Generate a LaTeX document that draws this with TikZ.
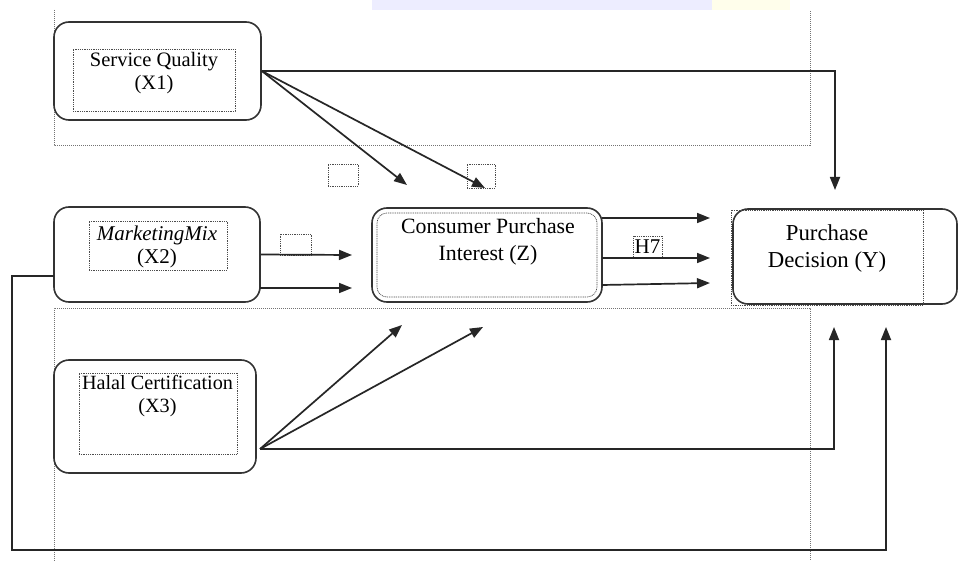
\documentclass[tikz,border=0pt]{standalone}
\usepackage{fontspec}
\setmainfont{Liberation Serif}
\usetikzlibrary{arrows.meta,calc}
\begin{document}
\begin{tikzpicture}[x=1pt,y=-1pt,
  outer/.style={draw=black!80,line width=1.6pt,rounded corners=15pt,inner sep=0pt},
  dotbox/.style={draw=black!70,line width=0.7pt,dash pattern=on 1pt off 0.8pt,inner sep=0pt},
  txt/.style={align=center,inner sep=0pt,text=black},
  frame/.style={draw=black!55,line width=0.9pt,dash pattern=on 1pt off 1pt},
  conn/.style={draw=black!85,line width=1.7pt},
  arr/.style={conn,-{Triangle[length=13pt,width=10pt]}}]
\useasboundingbox (0,0) rectangle (960,561);
\fill[white] (0,0) rectangle (960,561);
% faint banner at the top edge
\fill[blue!7] (372,0) rectangle (712,10);
\fill[yellow!8] (712,0) rectangle (790,10);
% dotted frames
\draw[frame] (54,10) -- (54,145) -- (810,145) -- (810,10);
\draw[frame] (54,561) -- (54,308) -- (810,308) -- (810,561);

% X1
\node[outer,minimum width=207pt,minimum height=98pt] (X1) at (157.5,71) {};
\node[dotbox,minimum width=162pt,minimum height=62pt] (X1i) at (154,80) {};
\node[txt,font=\fontsize{20.5}{23}\selectfont] (X1t) at (154,73.5) {Service Quality\\(X1)};

% X2
\node[outer,minimum width=206pt,minimum height=95pt] (X2) at (157,254.5) {};
\node[dotbox,minimum width=138pt,minimum height=49pt] (X2i) at (158,245.5) {};
\node[txt,font=\fontsize{21}{23}\selectfont] (X2t) at (157,246.5) {\textit{MarketingMix}\\(X2)};

% X3
\node[outer,minimum width=202pt,minimum height=113pt] (X3) at (155,416.5) {};
\node[dotbox,minimum width=158pt,minimum height=81pt] (X3i) at (158,413.5) {};
\node[txt,font=\fontsize{20.2}{23}\selectfont] (X3t) at (157.5,396.5) {Halal Certification\\(X3)};

% Z
\node[outer,minimum width=230pt,minimum height=94pt] (Z) at (487,255) {};
\node[dotbox,rounded corners=10pt,minimum width=220pt,minimum height=84pt] (Zi) at (487,255) {};
\node[txt,font=\fontsize{21.8}{27}\selectfont] (Zt) at (488,242) {Consumer Purchase\\Interest (Z)};

% Y
\node[outer,minimum width=224pt,minimum height=95pt] (Y) at (845,256.5) {};
\node[dotbox,minimum width=192pt,minimum height=95pt] (Yi) at (827,257.5) {};
\node[txt,font=\fontsize{22.8}{27}\selectfont] (Yt) at (827,248.5) {Purchase\\Decision (Y)};

% small dotted squares and H7
\node[dotbox,minimum width=30pt,minimum height=22pt] (S1) at (343,175) {};
\node[dotbox,minimum width=28pt,minimum height=24pt] (S2) at (481,176) {};
\node[dotbox,minimum width=31pt,minimum height=21pt] (S3) at (295.5,244.5) {};
\node[dotbox,minimum width=29pt,minimum height=21pt,font=\fontsize{21}{23}\selectfont] (H7) at (647.5,246.5) {H7};

% coordinates
\coordinate (t1) at (835,190);
\coordinate (t2) at (407,185);
\coordinate (t3) at (485,188);
\coordinate (t4) at (352,255);
\coordinate (s5) at (260,288);
\coordinate (t5) at (352,288);
\coordinate (s6) at (54,276);
\coordinate (b1) at (12,276);
\coordinate (b2) at (12,550);
\coordinate (b3) at (886,550);
\coordinate (t6) at (886,327);
\coordinate (s7) at (602,218);
\coordinate (t7) at (710,218);
\coordinate (s8) at (602,258);
\coordinate (t8) at (710,258);
\coordinate (s9) at (602,285);
\coordinate (t9) at (710,283);
\coordinate (s10) at (260,449);
\coordinate (t10) at (402,325);
\coordinate (t11) at (483,327);
\coordinate (t12) at (834,327);

% connectors
\draw[arr] (X1.east) -| (t1);
\draw[arr] (X1.east) -- (t2);
\draw[arr] (X1.east) -- (t3);
\draw[arr] (X2.east) -- (t4);
\draw[arr] (s5) -- (t5);
\draw[arr] (s6) -- (b1) -- (b2) -- (b3) -- (t6);
\draw[arr] (s7) -- (t7);
\draw[arr] (s8) -- (t8);
\draw[arr] (s9) -- (t9);
\draw[arr] (s10) -- (t10);
\draw[arr] (s10) -- (t11);
\draw[arr] (s10) -| (t12);
\end{tikzpicture}
\end{document}
